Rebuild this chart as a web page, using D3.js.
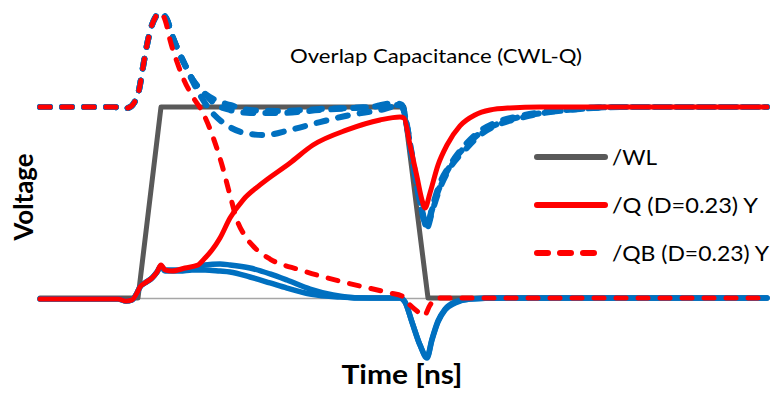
<!DOCTYPE html>
<html>
<head>
<meta charset="utf-8">
<script src="https://cdn.jsdelivr.net/npm/d3@7"></script>
<style>
  html, body { margin: 0; padding: 0; background: #ffffff; }
  svg { display: block; }
</style>
</head>
<body>
<svg id="chart" width="776" height="394"></svg>
<script>
// ---- Data (time in ns, voltage normalised to VDD) ----
const title = "Overlap Capacitance (CWL-Q)";
const xLabel = "Time [ns]";
const yLabel = "Voltage";
const legendLabels = ["/WL", "/Q (D=0.23) Y", "/QB (D=0.23) Y"];
const timeDomain = [0, 7.27];
const voltDomain = [0, 1];

const wl = [[0,0],[0.98,0],[1.21,1],[3.64,1],[3.88,0],[7.27,0]];

const qRed = [[0,-0.005],[0.78,-0.005],[0.86,-0.016],[0.92,-0.010],[0.97,0.026],[1.00,0.058],[1.05,0.079],[1.12,0.105],[1.17,0.136],[1.21,0.173],[1.25,0.147],[1.32,0.141],[1.45,0.157],[1.58,0.173],[1.65,0.209],[1.72,0.251],[1.80,0.314],[1.90,0.419],[2.03,0.513],[2.20,0.592],[2.50,0.707],[2.73,0.801],[3.07,0.880],[3.40,0.932],[3.60,0.948],[3.64,0.942],[3.70,0.801],[3.77,0.634],[3.82,0.513],[3.85,0.471],[3.90,0.550],[3.98,0.696],[4.07,0.801],[4.20,0.901],[4.35,0.958],[4.50,0.984],[4.70,0.995],[5.00,1.0],[7.27,1.0]];

const qbRed = [[0,1.0],[0.75,1.0],[0.80,0.990],[0.88,0.995],[0.94,1.021],[0.99,1.089],[1.03,1.209],[1.07,1.325],[1.11,1.414],[1.15,1.466],[1.19,1.492],[1.22,1.487],[1.26,1.440],[1.30,1.351],[1.37,1.236],[1.44,1.141],[1.53,1.052],[1.63,0.969],[1.73,0.843],[1.82,0.696],[1.90,0.539],[1.97,0.408],[2.05,0.325],[2.15,0.262],[2.30,0.204],[2.60,0.147],[3.03,0.084],[3.50,0.026],[3.62,0.010],[3.70,-0.037],[3.78,-0.073],[3.84,-0.094],[3.90,-0.037],[3.96,0],[7.27,0]];

const qBlue1 = [[0,-0.005],[0.78,-0.005],[0.86,-0.016],[0.92,-0.010],[0.97,0.026],[1.00,0.058],[1.05,0.079],[1.12,0.105],[1.17,0.136],[1.21,0.168],[1.25,0.147],[1.40,0.147],[1.52,0.157],[1.65,0.173],[1.80,0.178],[1.90,0.173],[2.10,0.157],[2.30,0.126],[2.47,0.094],[2.70,0.047],[2.93,0.016],[3.20,0],[3.60,0],[3.65,-0.021],[3.72,-0.126],[3.80,-0.246],[3.87,-0.314],[3.92,-0.220],[3.98,-0.126],[4.05,-0.063],[4.15,-0.026],[4.30,-0.005],[4.60,0],[7.27,0]];
const qBlue2 = [[0,-0.005],[0.78,-0.005],[0.86,-0.016],[0.92,-0.010],[0.97,0.026],[1.00,0.058],[1.05,0.079],[1.12,0.105],[1.17,0.136],[1.21,0.163],[1.25,0.141],[1.40,0.141],[1.52,0.147],[1.65,0.147],[1.80,0.141],[1.90,0.136],[2.10,0.110],[2.30,0.079],[2.47,0.052],[2.70,0.021],[3.00,0.005],[3.30,0],[3.60,0],[3.65,-0.021],[3.72,-0.126],[3.80,-0.246],[3.87,-0.309],[3.92,-0.215],[3.98,-0.120],[4.05,-0.058],[4.15,-0.021],[4.30,-0.005],[4.60,0],[7.27,0]];

const qbBlue1 = [[0,1.0],[0.75,1.0],[0.80,0.990],[0.88,0.995],[0.94,1.021],[0.99,1.089],[1.03,1.209],[1.07,1.325],[1.11,1.414],[1.15,1.466],[1.19,1.492],[1.22,1.487],[1.27,1.456],[1.32,1.377],[1.38,1.298],[1.45,1.220],[1.53,1.141],[1.63,1.079],[1.75,1.037],[1.90,1.011],[2.10,0.984],[2.40,0.979],[2.80,0.990],[3.30,1.0],[3.55,1.021],[3.62,1.011],[3.66,0.932],[3.72,0.749],[3.80,0.513],[3.87,0.377],[3.92,0.471],[4.00,0.602],[4.10,0.696],[4.25,0.801],[4.40,0.874],[4.60,0.927],[4.80,0.953],[5.10,0.979],[5.40,0.995],[5.80,1.0],[7.27,1.0]];
const qbBlue2 = [[0,1.0],[0.75,1.0],[0.80,0.990],[0.88,0.995],[0.94,1.021],[0.99,1.089],[1.03,1.209],[1.07,1.325],[1.11,1.414],[1.15,1.466],[1.19,1.492],[1.22,1.487],[1.27,1.456],[1.32,1.377],[1.38,1.298],[1.45,1.220],[1.53,1.141],[1.63,1.079],[1.75,1.016],[1.90,0.984],[2.10,0.969],[2.40,0.969],[2.80,0.984],[3.30,1.0],[3.55,1.011],[3.62,1.005],[3.66,0.921],[3.72,0.733],[3.80,0.503],[3.87,0.367],[3.92,0.450],[4.00,0.576],[4.10,0.681],[4.25,0.775],[4.40,0.853],[4.60,0.911],[4.80,0.942],[5.10,0.974],[5.40,0.990],[5.80,1.0],[7.27,1.0]];
const qbBlue3 = [[0,1.0],[0.75,1.0],[0.80,0.990],[0.88,0.995],[0.94,1.021],[0.99,1.089],[1.03,1.209],[1.07,1.325],[1.11,1.414],[1.15,1.466],[1.19,1.492],[1.22,1.487],[1.27,1.456],[1.32,1.377],[1.38,1.298],[1.45,1.220],[1.53,1.131],[1.60,1.063],[1.70,0.984],[1.85,0.911],[2.05,0.864],[2.25,0.853],[2.50,0.880],[2.80,0.921],[3.10,0.958],[3.40,0.984],[3.58,1.005],[3.62,1.005],[3.66,0.927],[3.72,0.743],[3.80,0.508],[3.87,0.372],[3.92,0.461],[4.00,0.586],[4.10,0.691],[4.25,0.791],[4.40,0.864],[4.60,0.916],[4.80,0.948],[5.10,0.974],[5.40,0.990],[5.80,1.0],[7.27,1.0]];

// ---- Drawing ----
const svg = d3.select("#chart");
const x = d3.scaleLinear().domain(timeDomain).range([40, 767]);
const y = d3.scaleLinear().domain(voltDomain).range([298, 107]);

const RED = "#ff0000", BLUE = "#0070c0", GRAY = "#595959";
const FONT = "Lato, 'Open Sans', sans-serif";

const curveLine = d3.line().x(d => x(d[0])).y(d => y(d[1])).curve(d3.curveMonotoneX);
const linLine = d3.line().x(d => x(d[0])).y(d => y(d[1]));

// x axis baseline
const xAxis = d3.axisBottom(x).tickValues([]).tickSizeOuter(0);
svg.append("g").attr("transform", `translate(0,${y(0)})`).call(xAxis)
  .select(".domain").attr("stroke", "#a6a6a6").attr("stroke-width", 1.5);

function draw(data, color, width, dashed, gen) {
  svg.append("path").datum(data)
    .attr("d", gen || curveLine)
    .attr("fill", "none")
    .attr("stroke", color)
    .attr("stroke-width", width)
    .attr("stroke-linecap", "round")
    .attr("stroke-linejoin", "round")
    .attr("stroke-dasharray", dashed ? "10,12" : null);
}

draw(wl, GRAY, 5, false, linLine);
draw(qBlue1, BLUE, 5.5, false);
draw(qBlue2, BLUE, 5.5, false);
draw(qbBlue3, BLUE, 6, true);
draw(qbBlue2, BLUE, 6, true);
draw(qbBlue1, BLUE, 6, true);
draw(qRed, RED, 5, false);
draw(qbRed, RED, 5, true);

// Title
svg.append("text").attr("x", 436).attr("y", 63)
  .attr("text-anchor", "middle")
  .attr("font-family", FONT).attr("font-size", 19)
  .attr("textLength", 292).attr("lengthAdjust", "spacingAndGlyphs")
  .attr("fill", "#000").text(title);

// Axis labels
svg.append("text").attr("x", 402).attr("y", 384)
  .attr("text-anchor", "middle")
  .attr("font-family", FONT).attr("font-size", 26).attr("font-weight", "bold")
  .attr("textLength", 121).attr("lengthAdjust", "spacingAndGlyphs")
  .attr("fill", "#000").text(xLabel);

svg.append("text").attr("transform", "translate(33,197) rotate(-90)")
  .attr("text-anchor", "middle")
  .attr("font-family", FONT).attr("font-size", 26).attr("font-weight", "bold")
  .attr("textLength", 87).attr("lengthAdjust", "spacingAndGlyphs")
  .attr("fill", "#000").text(yLabel);

// Legend
const legendItems = [
  {label: legendLabels[0], color: GRAY, dashed: false, ly: 157, w: 45},
  {label: legendLabels[1], color: RED, dashed: false, ly: 205, w: 146},
  {label: legendLabels[2], color: RED, dashed: true, ly: 253, w: 157}
];
legendItems.forEach(it => {
  svg.append("line").attr("x1", 537).attr("x2", it.dashed ? 600 : 605)
    .attr("y1", it.ly).attr("y2", it.ly)
    .attr("stroke", it.color).attr("stroke-width", 6)
    .attr("stroke-linecap", "round")
    .attr("stroke-dasharray", it.dashed ? "11,12" : null);
  svg.append("text").attr("x", 612).attr("y", it.ly + 8)
    .attr("font-family", FONT).attr("font-size", 21)
    .attr("textLength", it.w).attr("lengthAdjust", "spacingAndGlyphs")
    .attr("fill", "#000").text(it.label);
});
</script>
</body>
</html>
